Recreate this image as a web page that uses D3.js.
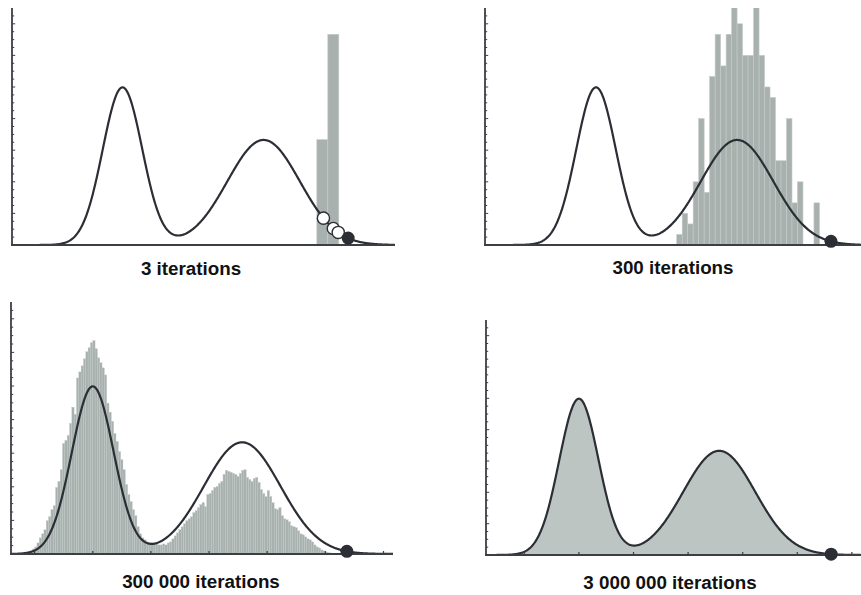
<!DOCTYPE html>
<html>
<head>
<meta charset="utf-8">
<script src="https://cdn.jsdelivr.net/npm/d3@7"></script>
<style>
  html, body { margin: 0; padding: 0; background: #fff; }
  svg { display: block; }
</style>
</head>
<body>
<svg id="chart" width="861" height="595"></svg>
<script>
// Target density: a two-component Gaussian mixture
const mixtureMeans = [1.0, 3.57];
const mixtureSds = [0.36, 0.66];
const mixtureWeights = [0.45, 0.55];

const panelTitles = ["3 iterations", "300 iterations", "300 000 iterations", "3 000 000 iterations"];

// Earlier states of the chain (open circles) and its current state in each panel (filled dot)
const earlySamples = [4.66, 4.84, 4.93];
const currentStates = [5.11, 5.28, 5.37, 5.62];

// 3 iterations: sample counts, shown as relative frequency
const hist3Start = 4.54;
const hist3Width = 0.2;
const hist3Counts = [1, 2];

// 300 iterations: sample counts, shown as density
const hist300Start = 2.47;
const hist300Width = 0.1;
const hist300Counts = [1, 3, 2, 6, 12, 5, 16, 20, 17, 20, 23, 21, 18, 18, 23, 18, 15, 14, 8, 8, 12, 4, 6, 0, 0, 4];

// 300 000 iterations: density per bin
const hist300kStart = -0.2;
const hist300kWidth = 0.04;
const hist300kDensity = [
  0.003, 0.004, 0.006, 0.009, 0.015, 0.021, 0.033, 0.048, 0.060, 0.072,
  0.099, 0.111, 0.132, 0.144, 0.198, 0.216, 0.251, 0.329, 0.338, 0.353,
  0.389, 0.437, 0.416, 0.524, 0.542, 0.560, 0.581, 0.602, 0.614, 0.629,
  0.635, 0.611, 0.584, 0.569, 0.554, 0.533, 0.449, 0.422, 0.395, 0.359,
  0.335, 0.305, 0.281, 0.251, 0.207, 0.177, 0.156, 0.132, 0.114, 0.081,
  0.060, 0.048, 0.042, 0.036, 0.033, 0.033, 0.030, 0.033, 0.027, 0.027,
  0.030, 0.027, 0.033, 0.036, 0.045, 0.054, 0.063, 0.072, 0.081, 0.090,
  0.099, 0.105, 0.111, 0.123, 0.129, 0.138, 0.147, 0.153, 0.141, 0.177,
  0.180, 0.189, 0.198, 0.201, 0.210, 0.216, 0.237, 0.249, 0.246, 0.243,
  0.240, 0.237, 0.231, 0.240, 0.249, 0.251, 0.228, 0.222, 0.216, 0.225,
  0.228, 0.213, 0.192, 0.180, 0.171, 0.189, 0.171, 0.153, 0.135, 0.132,
  0.138, 0.114, 0.105, 0.102, 0.096, 0.084, 0.081, 0.078, 0.069, 0.060,
  0.057, 0.051, 0.045, 0.042, 0.036, 0.027, 0.021, 0.018, 0.012, 0.009,
  0.006, 0.004, 0.003, 0.002, 0.001
];

// Axis ticks
const yMax = 0.75;
const yMajorTicks = [0, 0.1, 0.2, 0.3, 0.4, 0.5, 0.6, 0.7];
const yMinorStep = 0.025;
const xTickValues = [0, 1, 2, 3, 4, 5, 6];

// ---- drawing ----
const INK = "#2b2e34";
const AXIS = "#3b3e43";
const BAR = "#a8b1ae";
const BAR_EDGE = "#c4cbc8";
const AREA = "#bcc5c1";

function density(x) {
  let s = 0;
  for (let i = 0; i < mixtureMeans.length; i++) {
    const z = (x - mixtureMeans[i]) / mixtureSds[i];
    s += mixtureWeights[i] * Math.exp(-0.5 * z * z) / (mixtureSds[i] * Math.sqrt(2 * Math.PI));
  }
  return s;
}

// Plot frame of each panel in pixels, plus where x = 0 falls and pixels per x unit
const frames = [
  { left: 12,  right: 395, top: 8,   base: 245, zeroAt: 67.6,  unit: 54.9,  xTicks: false, title: [191, 275] },
  { left: 485, right: 861, top: 8,   base: 245, zeroAt: 541.1, unit: 54.9,  xTicks: false, title: [673, 274] },
  { left: 11,  right: 393, top: 302, base: 554, zeroAt: 34.6,  unit: 58.15, xTicks: true,  title: [201, 588] },
  { left: 486, right: 861, top: 320, base: 555, zeroAt: 524.3, unit: 54.6,  xTicks: true,  title: [670, 589] }
];

const svg = d3.select("#chart");

frames.forEach((f, idx) => {
  const x = d3.scaleLinear()
    .domain([(f.left - f.zeroAt) / f.unit, (f.right - f.zeroAt) / f.unit])
    .range([f.left, f.right]);
  const y = d3.scaleLinear().domain([0, yMax]).range([f.base, f.top]);

  const g = svg.append("g");
  const clipId = "clip" + idx;
  svg.append("clipPath").attr("id", clipId)
    .append("rect").attr("x", f.left).attr("y", f.top)
    .attr("width", f.right - f.left).attr("height", f.base - f.top);

  const plot = g.append("g").attr("clip-path", `url(#${clipId})`);

  // histogram bars
  let bars = [];
  if (idx === 0) {
    bars = hist3Counts.map((c, i) => ({ x0: hist3Start + i * hist3Width, x1: hist3Start + (i + 1) * hist3Width, v: c / 3 }));
  } else if (idx === 1) {
    bars = hist300Counts.map((c, i) => ({ x0: hist300Start + i * hist300Width, x1: hist300Start + (i + 1) * hist300Width, v: c / (300 * hist300Width) }));
  } else if (idx === 2) {
    bars = hist300kDensity.map((d, i) => ({ x0: hist300kStart + i * hist300kWidth, x1: hist300kStart + (i + 1) * hist300kWidth, v: d }));
  }
  plot.selectAll("rect.bar").data(bars.filter(b => b.v > 0)).join("rect")
    .attr("class", "bar")
    .attr("x", d => x(d.x0))
    .attr("width", d => x(d.x1) - x(d.x0))
    .attr("y", d => y(d.v))
    .attr("height", d => y(0) - y(d.v))
    .attr("fill", BAR)
    .attr("stroke", BAR_EDGE)
    .attr("stroke-width", idx === 2 ? 0.35 : 0.6);

  // density curve
  const xs = d3.range(x.domain()[0], x.domain()[1] + 0.001, 0.01);
  const pts = xs.map(v => [v, density(v)]);

  if (idx === 3) {
    plot.append("path")
      .datum(pts)
      .attr("d", d3.area().x(d => x(d[0])).y0(y(0)).y1(d => y(d[1])))
      .attr("fill", AREA);
  }

  plot.append("path")
    .datum(pts)
    .attr("d", d3.line().x(d => x(d[0])).y(d => y(d[1])).curve(d3.curveLinear))
    .attr("fill", "none")
    .attr("stroke", INK)
    .attr("stroke-width", 2.2)
    .attr("stroke-linejoin", "round");

  // y axis with major and minor inward ticks
  const minorVals = d3.range(0, yMax - 0.001, yMinorStep);
  g.selectAll("line.ytick").data(minorVals).join("line")
    .attr("x1", f.left).attr("x2", d => f.left + (yMajorTicks.some(m => Math.abs(m - d) < 1e-6) ? 3.2 : 2.2))
    .attr("y1", d => y(d)).attr("y2", d => y(d))
    .attr("stroke", AXIS).attr("stroke-width", 1);
  g.append("line")
    .attr("x1", f.left).attr("x2", f.left)
    .attr("y1", y(yMax)).attr("y2", f.base + 1)
    .attr("stroke", AXIS).attr("stroke-width", 1.8);

  // x axis
  g.append("line")
    .attr("x1", f.left - 0.9).attr("x2", f.right)
    .attr("y1", f.base).attr("y2", f.base)
    .attr("stroke", AXIS).attr("stroke-width", 1.8);
  if (f.xTicks) {
    g.selectAll("line.xtick").data(xTickValues).join("line")
      .attr("x1", d => x(d)).attr("x2", d => x(d))
      .attr("y1", f.base).attr("y2", f.base - 3)
      .attr("stroke", AXIS).attr("stroke-width", 1.2);
  }

  // chain markers
  if (idx === 0) {
    g.selectAll("circle.early").data(earlySamples).join("circle")
      .attr("cx", d => x(d)).attr("cy", d => y(density(d)))
      .attr("r", 6.1)
      .attr("fill", "#fff").attr("stroke", INK).attr("stroke-width", 1.4);
  }
  g.append("circle")
    .attr("cx", x(currentStates[idx]))
    .attr("cy", y(density(currentStates[idx])))
    .attr("r", 6.5)
    .attr("fill", INK);

  // caption
  svg.append("text")
    .attr("x", f.title[0]).attr("y", f.title[1])
    .attr("text-anchor", "middle")
    .attr("font-family", "'Liberation Sans', Arial, sans-serif")
    .attr("font-weight", "bold")
    .attr("font-size", 18.8)
    .attr("fill", "#111")
    .text(panelTitles[idx]);
});
</script>
</body>
</html>
